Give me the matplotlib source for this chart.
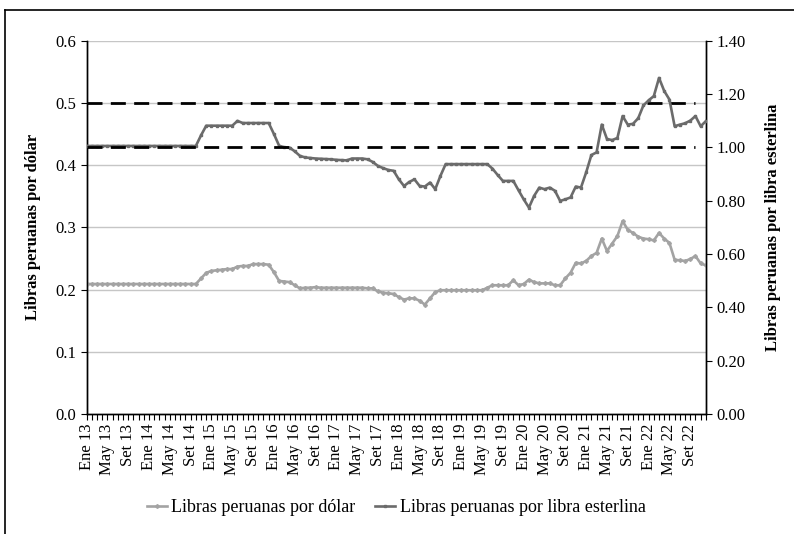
import matplotlib
matplotlib.use("Agg")
import matplotlib.pyplot as plt
from matplotlib.ticker import FixedLocator, FormatStrFormatter
from matplotlib.lines import Line2D

plt.rcParams["font.family"] = ["Liberation Serif", "DejaVu Serif"]

# ---------------------------------------------------------------------
#  Data (monthly, Ene 13 .. Dic 22)
# ---------------------------------------------------------------------
month_names = ["Ene", "Feb", "Mar", "Abr", "May", "Jun",
               "Jul", "Ago", "Set", "Oct", "Nov", "Dic"]
years = ["13", "14", "15", "16", "17", "18", "19", "20", "21", "22"]
months = [f"{m} {y}" for y in years for m in month_names]

por_dolar = [
    0.209, 0.209, 0.209, 0.209, 0.209, 0.209, 0.209, 0.209, 0.209, 0.209, 0.209, 0.209,
    0.209, 0.209, 0.209, 0.209, 0.209, 0.209, 0.209, 0.209, 0.209, 0.209, 0.218, 0.227,
    0.230, 0.231, 0.232, 0.233, 0.233, 0.237, 0.238, 0.238, 0.241, 0.241, 0.241, 0.240,
    0.228, 0.214, 0.213, 0.212, 0.207, 0.202, 0.203, 0.203, 0.204, 0.203, 0.203, 0.203,
    0.203, 0.203, 0.203, 0.203, 0.203, 0.203, 0.202, 0.202, 0.197, 0.195, 0.194, 0.193,
    0.188, 0.184, 0.186, 0.186, 0.182, 0.176, 0.186, 0.196, 0.199, 0.199, 0.199, 0.199,
    0.199, 0.199, 0.199, 0.199, 0.199, 0.203, 0.207, 0.207, 0.207, 0.207, 0.215, 0.207,
    0.209, 0.216, 0.212, 0.210, 0.210, 0.210, 0.207, 0.207, 0.218, 0.227, 0.243, 0.242,
    0.246, 0.254, 0.259, 0.282, 0.262, 0.274, 0.286, 0.310, 0.296, 0.291, 0.285, 0.282,
    0.281, 0.279, 0.291, 0.282, 0.275, 0.248, 0.247, 0.246, 0.249, 0.254, 0.242, 0.239,
]

por_libra = [
    1.005, 1.005, 1.005, 1.005, 1.005, 1.005, 1.005, 1.005, 1.005, 1.005, 1.005, 1.005,
    1.005, 1.005, 1.005, 1.005, 1.005, 1.005, 1.005, 1.005, 1.005, 1.005, 1.045, 1.081,
    1.081, 1.081, 1.081, 1.081, 1.081, 1.099, 1.091, 1.091, 1.091, 1.091, 1.091, 1.091,
    1.050, 1.006, 1.000, 0.999, 0.985, 0.968, 0.962, 0.960, 0.958, 0.957, 0.956, 0.955,
    0.953, 0.952, 0.951, 0.958, 0.958, 0.958, 0.955, 0.945, 0.930, 0.922, 0.915, 0.912,
    0.880, 0.855, 0.870, 0.880, 0.855, 0.853, 0.868, 0.843, 0.893, 0.937, 0.937, 0.937,
    0.937, 0.937, 0.937, 0.937, 0.937, 0.937, 0.920, 0.896, 0.874, 0.874, 0.874, 0.839,
    0.805, 0.774, 0.818, 0.849, 0.843, 0.849, 0.837, 0.799, 0.805, 0.812, 0.853, 0.849,
    0.906, 0.971, 0.981, 1.085, 1.031, 1.027, 1.035, 1.117, 1.085, 1.088, 1.109, 1.157,
    1.176, 1.192, 1.260, 1.211, 1.179, 1.079, 1.085, 1.090, 1.100, 1.117, 1.079, 1.098,
]

# reference bands (dashed)
banda_dolar = 0.5      # left axis
banda_libra = 1.0      # right axis
banda_fin = 117        # last month index of the dashed lines

left_ticks = [0.0, 0.1, 0.2, 0.3, 0.4, 0.5, 0.6]
right_ticks = [0.0, 0.2, 0.4, 0.6, 0.8, 1.0, 1.2, 1.4]

LIGHT = "#a3a3a3"
DARK = "#6b6b6b"

# ---------------------------------------------------------------------
#  Figure
# ---------------------------------------------------------------------
fig = plt.figure(figsize=(7.94, 5.34), dpi=100)
ax = fig.add_axes([0.109, 0.2245, 0.780, 0.6995])
ax2 = ax.twinx()

x = list(range(len(months)))

ax.plot(x, por_dolar, color=LIGHT, lw=1.9, marker="P", ms=2.4,
        mec=LIGHT, zorder=3)
ax2.plot(x, por_libra, color=DARK, lw=1.9, marker="s", ms=1.9,
         mec=DARK, zorder=3)

# dashed band lines
ax.plot([0, banda_fin], [banda_dolar, banda_dolar], color="black",
        lw=2.0, dashes=(5.4, 3.0), zorder=5)
ax2.plot([0, banda_fin], [banda_libra, banda_libra], color="black",
         lw=2.0, dashes=(5.4, 3.0), zorder=5)

# grid
for t in left_ticks[1:]:
    ax.axhline(t, color="#c6c6c6", lw=1.0, zorder=1)

# axes limits & ticks
ax.set_xlim(0, len(months) - 1)
ax.set_ylim(0, 0.6)
ax2.set_ylim(0, 1.4)
ax.set_yticks(left_ticks)
ax2.set_yticks(right_ticks)
ax.yaxis.set_major_formatter(FormatStrFormatter("%.1f"))
ax2.yaxis.set_major_formatter(FormatStrFormatter("%.2f"))

major_idx = x[::4]
ax.set_xticks(major_idx)
ax.set_xticklabels([months[i] for i in major_idx], rotation=90,
                   fontsize=12)
ax.xaxis.set_minor_locator(FixedLocator(x))
ax.tick_params(axis="x", which="both", direction="out", length=4,
               width=0.8, pad=3)
ax.tick_params(axis="y", direction="out", length=4, labelsize=12)
ax2.tick_params(axis="y", direction="out", length=4, labelsize=12)

for a in (ax, ax2):
    a.spines["top"].set_visible(False)
    for s in ("left", "right", "bottom"):
        a.spines[s].set_linewidth(1.0)
        a.spines[s].set_color("black")

ax.set_ylabel("Libras peruanas por dólar", fontsize=12, fontweight="bold",
              labelpad=10)
ax2.set_ylabel("Libras peruanas por libra esterlina", fontsize=12,
               fontweight="bold", labelpad=14)

# legend
handles = [
    Line2D([], [], color=LIGHT, lw=1.9, marker="P", ms=2.4, mec=LIGHT),
    Line2D([], [], color=DARK, lw=1.9, marker="s", ms=1.9, mec=DARK),
]
fig.legend(handles, ["Libras peruanas por dólar",
                     "Libras peruanas por libra esterlina"],
           loc="center", bbox_to_anchor=(0.499, 0.049), ncol=2,
           frameon=False, fontsize=13, handlelength=1.1,
           handletextpad=0.25, columnspacing=1.1)

# outer frame (left and top edges visible)
fig.add_artist(Line2D([0.006, 0.006], [0.0, 0.981], color="black",
                      lw=1.2, transform=fig.transFigure))
fig.add_artist(Line2D([0.006, 1.0], [0.981, 0.981], color="black",
                      lw=1.2, transform=fig.transFigure))

fig.savefig("out.png", dpi=100)
